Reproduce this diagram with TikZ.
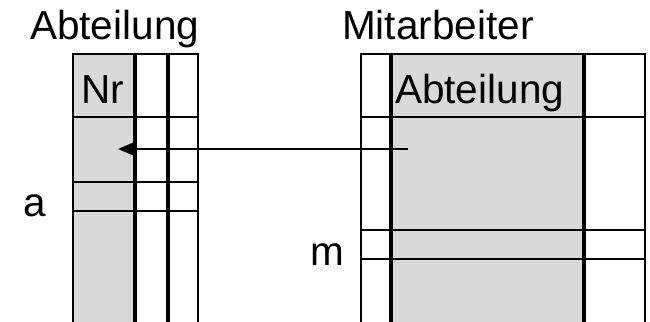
\documentclass[tikz,border=0pt]{standalone}
\usepackage{fontspec}
\setmainfont{Liberation Sans}
\usetikzlibrary{arrows.meta}
\definecolor{cellgray}{HTML}{D9D9D9}
\begin{document}
\begin{tikzpicture}[x=1pt,y=-1pt,
  col/.style={draw=black,line width=2.3pt},
  gcol/.style={col,fill=cellgray},
  rowline/.style={draw=black,line width=2.3pt},
  lbl/.style={anchor=base west,inner sep=0pt,font=\fontsize{40.5}{40.5}\selectfont},
  ptr/.style={draw=black,line width=2.2pt,-{Triangle[length=16pt,width=13pt]}}]
\clip (0,0) rectangle (650,321);
% left table: Abteilung
\path[gcol] (73,54) rectangle (134,330);
\path[col] (136,54) rectangle (167,330);
\path[col] (169,54) rectangle (198,330);
\foreach \yy in {117,182,211} \draw[rowline] (73,\yy) -- (198,\yy);
% right table: Mitarbeiter
\path[col] (361,54) rectangle (390,330);
\path[gcol] (392,54) rectangle (583,330);
\path[col] (585,54) rectangle (645,330);
\foreach \yy in {117,230,259} \draw[rowline] (361,\yy) -- (645,\yy);
% texts
\node[lbl] (t1) at (30,40) {Abteilung};
\node[lbl] (nr) at (81,103) {Nr};
\node[lbl] (t2) at (342,40) {Mitarbeiter};
\node[lbl] (ab) at (395,103) {Abteilung};
\node[lbl] (la) at (23.5,216) {a};
\node[lbl] (lm) at (310,265) {m};
% arrow
\coordinate (src) at (408,149);
\coordinate (dst) at (118,149);
\draw[ptr] (src) -- (dst);
\end{tikzpicture}
\end{document}
